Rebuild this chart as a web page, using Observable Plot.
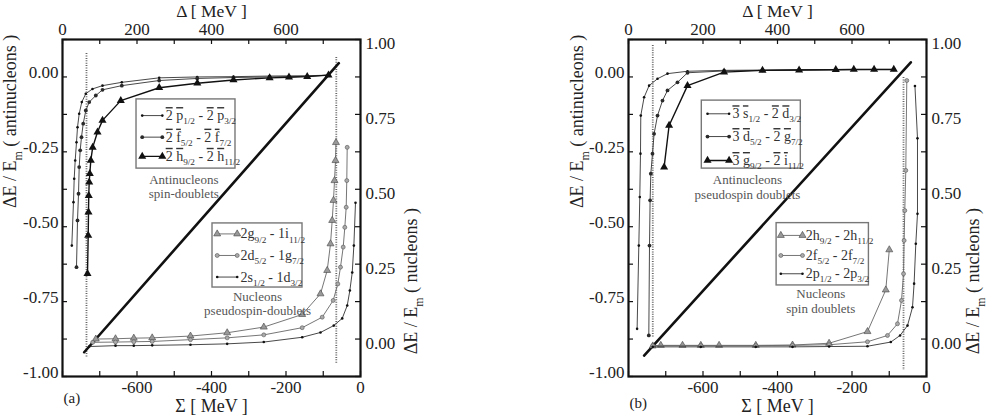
<!DOCTYPE html>
<html><head><meta charset="utf-8">
<script src="https://cdn.jsdelivr.net/npm/d3@7"></script>
<script src="https://cdn.jsdelivr.net/npm/@observablehq/plot@0.6"></script>
<style>
body{margin:0;background:#fff;}
#wrap{display:flex;width:987px;height:419px;overflow:hidden;background:#fff;}
#wrap svg{display:block;flex:none;}
#wrap svg, #wrap svg text, #wrap svg tspan{font-family:"Liberation Serif","DejaVu Serif",serif !important;}
</style></head><body><div id="wrap"></div>
<script>
// ---------- scales / ticks ----------
const sigmaDomain = [-800, 0];          // bottom axis Σ [MeV]; top axis Δ = Σ + 800
const antiDomain = [-1, 0.125];         // left axis ΔE/Em (antinucleons)
const nucleonOffset = 0.875;            // right axis value r sits where left value is r - 0.875
const sigmaTicks = [-800, -700, -600, -500, -400, -300, -200, -100, 0];
const sigmaLabels = [-600, -400, -200, 0];
const deltaLabels = [0, 200, 400, 600];
const leftTicks = [-1, -0.875, -0.75, -0.625, -0.5, -0.375, -0.25, -0.125, 0, 0.125];
const leftLabels = [-1, -0.75, -0.5, -0.25, 0];
const rightTicks = [-0.125, 0, 0.125, 0.25, 0.375, 0.5, 0.625, 0.75, 0.875, 1];
const rightLabels = [0, 0.25, 0.5, 0.75, 1];

// ---------- panel (a) data: [Σ, ΔE/Em] ----------
const a_anti_p = [[-775,-0.563],[-770.5,-0.418],[-768.6,-0.34],[-765.9,-0.279],[-762.4,-0.218],[-759.7,-0.168],[-755.2,-0.123],[-748.2,-0.084],[-737.5,-0.056],[-719.5,-0.04],[-692.6,-0.029],[-640.8,-0.018],[-540.4,-0.003],[-438.4,0],[-341,0.001],[-244,0.003],[-143,0.004],[-86,0.006]];
const a_anti_f = [[-762.4,-0.635],[-759.7,-0.479],[-757,-0.39],[-755.2,-0.301],[-752.5,-0.245],[-749,-0.201],[-744.4,-0.156],[-737.4,-0.112],[-728.3,-0.084],[-710.6,-0.062],[-692.6,-0.043],[-640.8,-0.029],[-540.4,-0.012],[-438.4,-0.005],[-341,-0.002],[-244,0],[-143,0.002],[-86,0.006]];
const a_anti_h = [[-732.9,-0.657],[-731,-0.529],[-730.2,-0.451],[-729.5,-0.396],[-728.3,-0.351],[-726.7,-0.323],[-724,-0.279],[-719,-0.235],[-706,-0.184],[-692.6,-0.145],[-643.5,-0.079],[-540.4,-0.036],[-438,-0.021],[-341,-0.01],[-244,-0.003],[-192,-0.001],[-143,0.001],[-86,0.006]];
const a_nuc_g = [[-710.6,0],[-657.7,0.001],[-608.6,0.003],[-559.2,0.004],[-456.4,0.01],[-357.9,0.021],[-259.6,0.04],[-156.5,0.082],[-107.4,0.151],[-89.4,0.229],[-80.5,0.318],[-76,0.396],[-72.5,0.463],[-69.8,0.529],[-67.1,0.596],[-65.8,0.656]];
const a_nuc_d = [[-718.9,-0.011],[-657.7,-0.01],[-608.6,-0.009],[-559.2,-0.008],[-456.4,-0.002],[-357.9,0.004],[-259.6,0.014],[-156.5,0.038],[-102.8,0.073],[-73.3,0.129],[-60.9,0.184],[-53.7,0.24],[-46.4,0.307],[-42.1,0.373],[-38.4,0.44],[-36.8,0.529],[-35.7,0.64]];
const a_nuc_s = [[-728.3,-0.025],[-657.7,-0.022],[-608.6,-0.022],[-559.2,-0.021],[-456.4,-0.019],[-357.9,-0.016],[-259.6,-0.01],[-156.5,0.006],[-107.4,0.022],[-71.7,0.045],[-49.1,0.069],[-35.6,0.112],[-28.6,0.162],[-22.2,0.222],[-17.8,0.312],[-13.4,0.455]];
const a_diagonal = [[-741.8,-0.919],[-58.2,0.046]];
const a_dotted = [[-735.6,0.078,-0.94],[-65,0.065,-0.956]];

// ---------- panel (b) data ----------
const b_anti_s = [[-776.9,-0.841],[-772.3,-0.563],[-769.7,-0.401],[-767.8,-0.256],[-767,-0.129],[-758.1,-0.068],[-744.7,-0.029],[-722.1,-0.006],[-695.3,0.011],[-641.6,0.019],[-543.4,0.022],[-440.3,0.023],[-342,0.024],[-243.5,0.025],[-140.7,0.025],[-87.8,0.025]];
const b_anti_d = [[-745.5,-0.863],[-743.6,-0.563],[-742,-0.412],[-740.1,-0.323],[-735.6,-0.256],[-731.3,-0.19],[-722.1,-0.129],[-708.7,-0.079],[-695.3,-0.045],[-668.5,-0.018],[-641.6,0.014],[-543.4,0.02],[-440.3,0.022],[-342,0.023],[-243.5,0.024],[-140.7,0.025],[-87.8,0.025]];
const b_anti_g = [[-704.4,-0.301],[-691,-0.162],[-641.6,-0.029],[-543.4,0.016],[-440.3,0.022],[-342,0.023],[-243.5,0.024],[-195.2,0.025],[-140.7,0.025],[-87.8,0.025]];
const b_nuc_h = [[-734.8,-0.023],[-713.3,-0.021],[-655,-0.021],[-605.9,-0.021],[-556.8,-0.021],[-458.3,-0.021],[-359.7,-0.02],[-261.5,-0.014],[-158.4,0.025],[-109.3,0.164],[-99.9,0.298]];
const b_nuc_f = [[-734.8,-0.022],[-605.9,-0.022],[-458.3,-0.022],[-359.7,-0.021],[-261.5,-0.019],[-158.4,-0.009],[-104.7,0.012],[-77.9,0.051],[-67.1,0.129],[-61.7,0.218],[-60.1,0.329],[-58.3,0.429],[-55.6,0.563],[-52.9,0.863]];
const b_nuc_p = [[-734.8,-0.026],[-605.9,-0.026],[-458.3,-0.026],[-359.7,-0.026],[-261.5,-0.025],[-158.4,-0.024],[-95.8,-0.01],[-70.9,0.012],[-51,0.045],[-37.6,0.106],[-33.3,0.185],[-28.7,0.318],[-24.2,0.418],[-24.2,0.67],[-31,0.845]];
const b_diagonal = [[-758.1,-0.93],[-42.1,0.049]];
const b_dotted = [[-734.8,0.105,-0.87],[-61.7,-0.002,-0.98]];

// ---------- labels ----------
const a_anti_labels = ["~2 ~p_{1/2} - ~2 ~p_{3/2}", "~2 ~f_{5/2} - ~2 ~f_{7/2}", "~2 ~h_{9/2} - ~2 ~h_{11/2}"];
const a_nuc_labels = ["2g_{9/2} - 1i_{11/2}", "2d_{5/2} - 1g_{7/2}", "2s_{1/2} - 1d_{3/2}"];
const b_anti_labels = ["~3 ~s_{1/2} - ~2 ~d_{3/2}", "~3 ~d_{5/2} - ~2 ~g_{7/2}", "~3 ~g_{9/2} - ~2 ~i_{11/2}"];
const b_nuc_labels = ["2h_{9/2} - 2h_{11/2}", "2f_{5/2} - 2f_{7/2}", "2p_{1/2} - 2p_{3/2}"];
const a_captions = ["Antinucleons\nspin-doublets", "Nucleons\npseudospin-doublets"];
const b_captions = ["Antinucleons\npseudospin doublets", "Nucleons\nspin doublets"];
const panelTags = ["(a)", "(b)"];
const titles = {bottom: "Σ [ MeV ]", top: "Δ [ MeV ]", left: "ΔE / E_{m} ( antinucleons )", right: "ΔE / E_{m} ( nucleons )"};

// ---------- styles ----------
const STY = {
  smallDot: {line: "#333", lw: 0.9, symbol: "circle", r: 1.3, fill: "#111", stroke: "none"},
  dot: {line: "#333", lw: 0.9, symbol: "circle", r: 1.9, fill: "#2a2a2a", stroke: "none"},
  tri: {line: "#111", lw: 1.4, symbol: "triangle", r: 3, fill: "#111", stroke: "none"},
  triGray: {line: "#666", lw: 0.9, symbol: "triangle", r: 2.6, fill: "#999", stroke: "#444"},
  circGray: {line: "#666", lw: 0.9, symbol: "circle", r: 2, fill: "#aaa", stroke: "#555"}
};

const FONT = "Liberation Serif";

const panels = [
  {
    width: 494, ml: 62, mr: 134, tag: panelTags[0], tagDy: 26, titleDx: {left: -52, right: 51},
    series: [
      {data: a_anti_p, axis: "left", sty: "smallDot"},
      {data: a_anti_f, axis: "left", sty: "dot"},
      {data: a_anti_h, axis: "left", sty: "tri"},
      {data: a_nuc_g, axis: "right", sty: "triGray"},
      {data: a_nuc_d, axis: "right", sty: "circGray"},
      {data: a_nuc_s, axis: "right", sty: "smallDot"}
    ],
    diagonal: a_diagonal, dotted: a_dotted,
    legends: [
      {box: [-601.3, -335.6, -0.306, -0.075], rows: [-0.129, -0.201, -0.265], sample: [-586, -532], textX: -523,
       labels: a_anti_labels, stys: ["smallDot", "dot", "tri"], caption: a_captions[0], capAt: [-474.4, -0.366], capLH: 1.05},
      {box: [-397.3, -155.7, -0.703, -0.489], rows: [-0.524, -0.596, -0.668], sample: [-384.7, -331], textX: -322,
       labels: a_nuc_labels, stys: ["triGray", "circGray", "smallDot"], caption: a_captions[1], capAt: [-276.5, -0.757], capLH: 1.05}
    ]
  },
  {
    width: 493, ml: 134, mr: 61, tag: panelTags[1], tagDy: 31, titleDx: {left: -51, right: 47},
    series: [
      {data: b_anti_s, axis: "left", sty: "smallDot"},
      {data: b_anti_d, axis: "left", sty: "dot"},
      {data: b_anti_g, axis: "left", sty: "tri"},
      {data: b_nuc_h, axis: "right", sty: "triGray"},
      {data: b_nuc_f, axis: "right", sty: "circGray"},
      {data: b_nuc_p, axis: "right", sty: "smallDot"}
    ],
    diagonal: b_diagonal, dotted: b_dotted,
    legends: [
      {box: [-603.2, -337.4, -0.306, -0.079], rows: [-0.123, -0.199, -0.279], sample: [-587.9, -529.9], textX: -521,
       labels: b_anti_labels, stys: ["smallDot", "dot", "tri"], caption: b_captions[0], capAt: [-480.5, -0.366], capLH: 1.15},
      {box: [-402.4, -154.6, -0.696, -0.488], rows: [-0.529, -0.596, -0.657], sample: [-391.1, -332.9], textX: -324,
       labels: b_nuc_labels, stys: ["triGray", "circGray", "smallDot"], caption: b_captions[1], capAt: [-283.8, -0.747], capLH: 1.15}
    ]
  }
];

function seriesMarks(data, sty, yfn) {
  const s = STY[sty];
  return [
    Plot.line(data, {x: d => d[0], y: yfn, stroke: s.line, strokeWidth: s.lw}),
    Plot.dot(data, {x: d => d[0], y: yfn, symbol: s.symbol, r: s.r, fill: s.fill, stroke: s.stroke, strokeWidth: 0.6})
  ];
}

function makePanel(p) {
  const W = p.width - p.ml - p.mr, H = 419 - 39 - 43;
  const T = {fontFamily: FONT, fill: "#222"};
  const marks = [];
  marks.push(Plot.ruleX(p.dotted, {x: d => d[0], y1: d => d[1], y2: d => d[2], stroke: "#666", strokeWidth: 1.8, strokeDasharray: "1,1.4"}));
  marks.push(Plot.line(p.diagonal, {x: d => d[0], y: d => d[1], stroke: "#111", strokeWidth: 2.6}));
  for (const s of p.series) {
    const yfn = s.axis === "right" ? d => d[1] - nucleonOffset : d => d[1];
    marks.push(...seriesMarks(s.data, s.sty, yfn));
  }
  for (const L of p.legends) {
    marks.push(Plot.rect([L.box], {x1: d => d[0], x2: d => d[1], y1: d => d[2], y2: d => d[3], fill: "white", stroke: "#777", strokeWidth: 1.4}));
    L.rows.forEach((ry, i) => {
      const pts = [[L.sample[0], ry], [L.sample[1], ry]];
      marks.push(...seriesMarks(pts, L.stys[i], d => d[1]));
    });
    marks.push(Plot.text(L.labels, {x: () => L.textX, y: (d, i) => L.rows[i], text: d => d, textAnchor: "start", fontSize: 14, ...T, fill: "#333"}));
    marks.push(Plot.text([L.caption], {x: () => L.capAt[0], y: () => L.capAt[1], text: d => d, fontSize: 13, ...T, fill: "#555", lineHeight: L.capLH}));
  }
  // ticks (inward)
  marks.push(Plot.tickY(leftTicks, {y: d => d, insetRight: W - 5, stroke: "#111", strokeWidth: 1.2}));
  marks.push(Plot.tickY(rightTicks.map(r => r - nucleonOffset), {y: d => d, insetLeft: W - 5, stroke: "#111", strokeWidth: 1.2}));
  marks.push(Plot.tickX(sigmaTicks, {x: d => d, insetBottom: H - 5, stroke: "#111", strokeWidth: 1.2}));
  marks.push(Plot.tickX(sigmaTicks, {x: d => d, insetTop: H - 5, stroke: "#111", strokeWidth: 1.2}));
  // tick labels
  marks.push(Plot.axisY({ticks: leftLabels, anchor: "left", tickSize: 0, tickPadding: 4, tickFormat: v => v.toFixed(2), label: null, fontSize: 17, dy: -4, ...T}));
  marks.push(Plot.axisY({ticks: rightLabels.map(r => r - nucleonOffset), anchor: "right", tickSize: 0, tickPadding: 5, tickFormat: v => (v + nucleonOffset).toFixed(2), label: null, fontSize: 17, dy: 4, ...T}));
  marks.push(Plot.axisX({ticks: sigmaLabels, anchor: "bottom", tickSize: 0, tickPadding: 4, tickFormat: v => String(v), label: null, fontSize: 17, ...T}));
  marks.push(Plot.axisX({ticks: deltaLabels.map(d => d + sigmaDomain[0]), anchor: "top", tickSize: 0, tickPadding: 5, tickFormat: v => String(v - sigmaDomain[0]), label: null, fontSize: 17, ...T}));
  // titles
  marks.push(Plot.text([titles.bottom], {frameAnchor: "bottom", dy: 35, fontSize: 18, ...T}));
  marks.push(Plot.text([titles.top], {frameAnchor: "top", dy: -35, fontSize: 17.5, ...T}));
  marks.push(Plot.text([titles.left], {frameAnchor: "left", dx: p.titleDx.left, rotate: -90, fontSize: 18, ...T}));
  marks.push(Plot.text([titles.right], {frameAnchor: "right", dx: p.titleDx.right, rotate: -90, fontSize: 18, ...T}));
  marks.push(Plot.text([p.tag], {frameAnchor: "bottom-left", dy: p.tagDy, dx: 1, textAnchor: "start", fontSize: 15, ...T}));
  marks.push(Plot.frame({stroke: "#111", strokeWidth: 2.2}));

  return Plot.plot({
    width: p.width, height: 419,
    marginLeft: p.ml, marginRight: p.mr, marginTop: 39, marginBottom: 43,
    x: {domain: sigmaDomain},
    y: {domain: antiDomain},
    style: {fontFamily: "Liberation Serif", fontSize: "17px", background: "white", color: "#222"},
    marks
  });
}

// rich text: "~x" overline char, "_{..}" subscript
function richify(svg) {
  const NS = "http://www.w3.org/2000/svg";
  for (const el of Array.from(svg.querySelectorAll("text, tspan"))) {
    if (el.children.length) continue;
    const s = el.textContent;
    if (!s.includes("_{") && !s.includes("~")) continue;
    const fsEl = el.closest("[font-size]");
    const fs = fsEl ? parseFloat(fsEl.getAttribute("font-size")) : 14;
    const subFs = fs * 0.66, shift = fs * 0.3;
    const segs = []; let buf = ""; let i = 0;
    while (i < s.length) {
      if (s[i] === "~") { if (buf) { segs.push({t: buf}); buf = ""; } segs.push({t: s[i + 1], over: true}); i += 2; }
      else if (s.startsWith("_{", i)) { if (buf) { segs.push({t: buf}); buf = ""; } const j = s.indexOf("}", i); segs.push({t: s.slice(i + 2, j), sub: true}); i = j + 1; }
      else { buf += s[i]; i++; }
    }
    if (buf) segs.push({t: buf});
    el.textContent = "";
    let shifted = false;
    for (const seg of segs) {
      const ts = document.createElementNS(NS, "tspan");
      ts.textContent = seg.t;
      if (seg.sub) { ts.setAttribute("font-size", subFs); if (!shifted) { ts.setAttribute("dy", shift); shifted = true; } }
      else if (shifted) { ts.setAttribute("dy", -shift); shifted = false; }
      if (seg.over) ts.style.textDecoration = "overline";
      el.appendChild(ts);
    }
  }
}

const wrap = document.getElementById("wrap");
for (const p of panels) {
  const svg = makePanel(p);
  wrap.appendChild(svg);
  richify(svg);
}
</script></body></html>
